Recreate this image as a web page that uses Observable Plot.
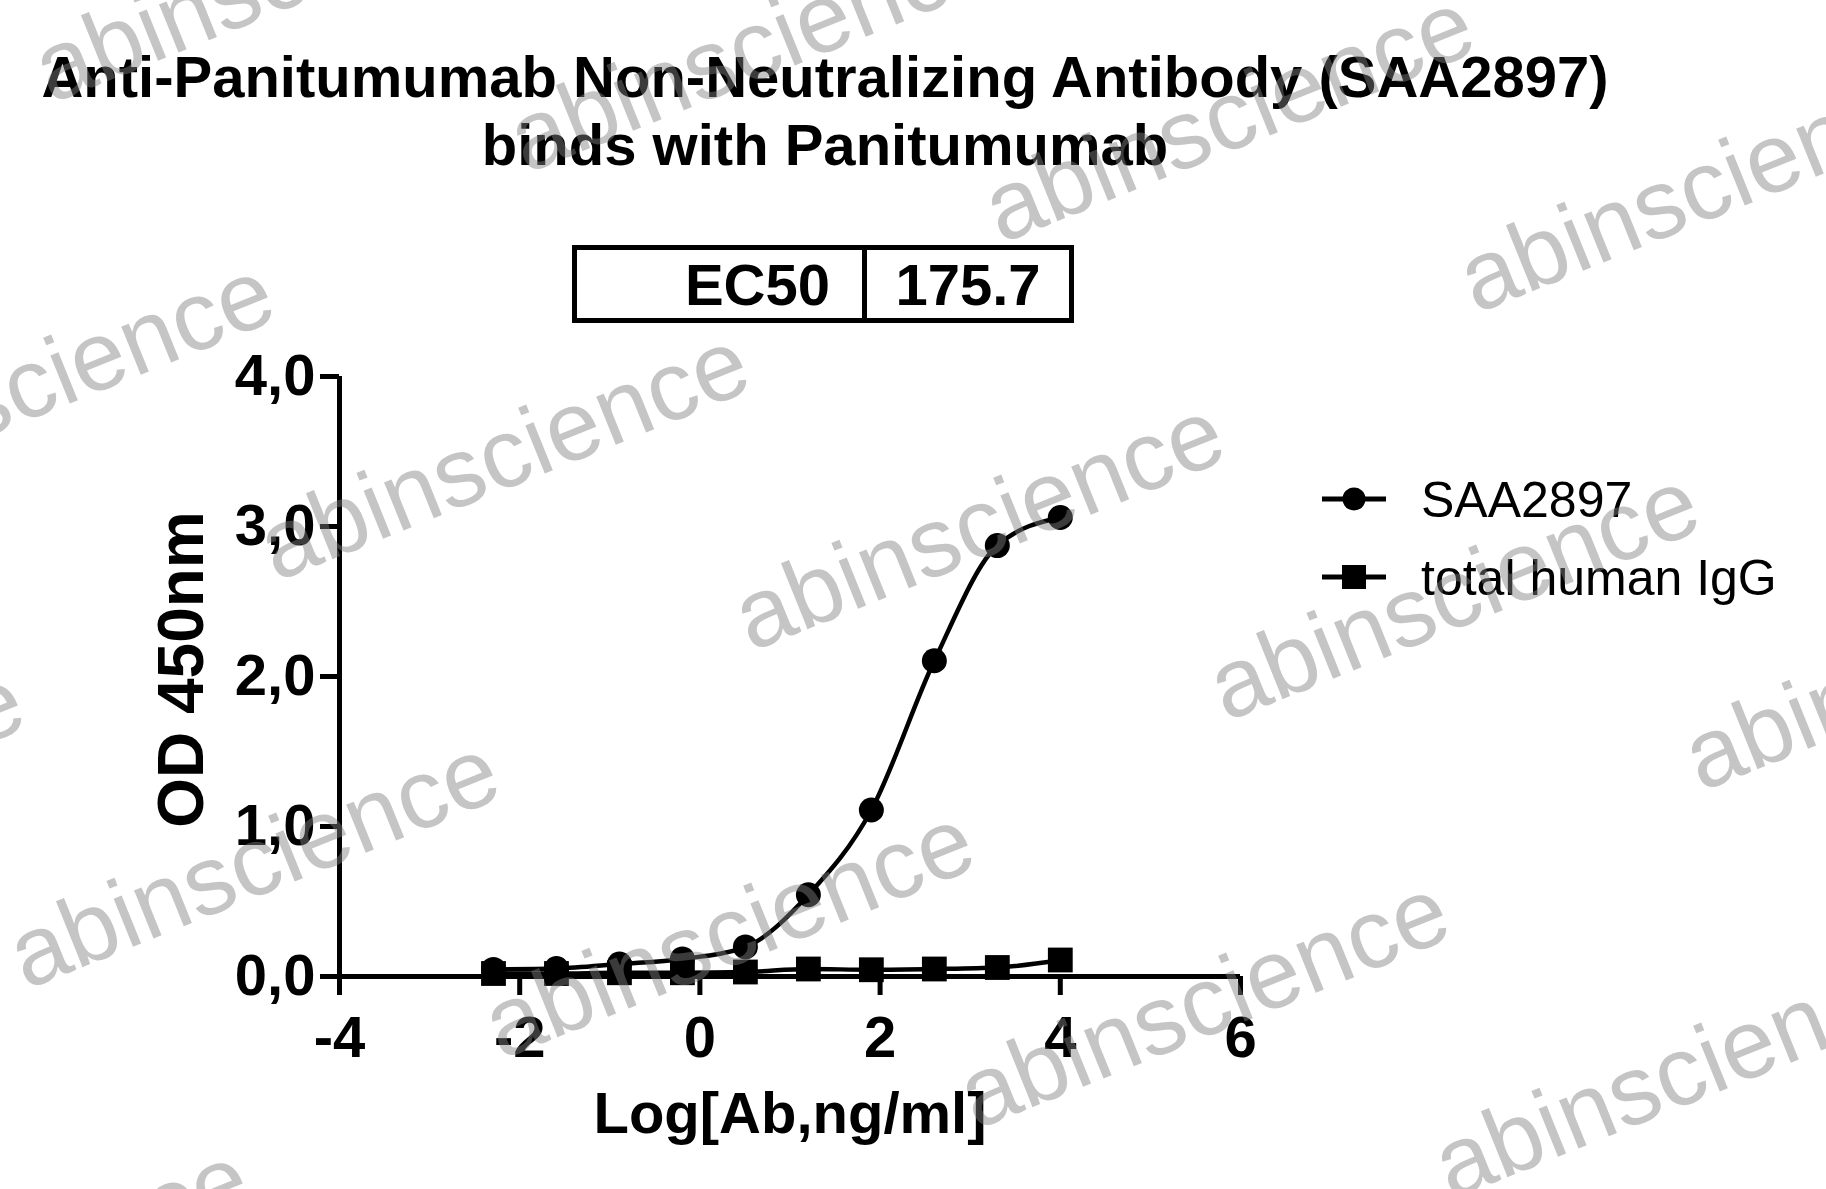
<!DOCTYPE html>
<html>
<head>
<meta charset="utf-8">
<script src="https://cdn.jsdelivr.net/npm/d3@7"></script>
<script src="https://cdn.jsdelivr.net/npm/@observablehq/plot@0.6"></script>
<style>
html, body { margin: 0; padding: 0; background: #fff; }
#page { position: relative; width: 1826px; height: 1189px; overflow: hidden; background: #fff;
  font-family: "Liberation Sans", Arial, sans-serif; color: #000; }
.title { position: absolute; left: 0; width: 1650px; text-align: center; font-weight: bold;
  font-size: 58px; line-height: 68px; white-space: nowrap; }
#chart { position: absolute; left: 0; top: 200px; }
#ec50 { position: absolute; left: 572px; top: 245px; width: 502px; height: 78px; box-sizing: border-box;
  border: 5px solid #000; display: flex; font-weight: bold; font-size: 58px; background: #fff; }
#ec50 .k { width: 290px; box-sizing: border-box; border-right: 5px solid #000; padding-right: 32px;
  display: flex; align-items: center; justify-content: flex-end; }
#ec50 .v { flex: 1; display: flex; align-items: center; justify-content: center; }
svg.overlay { position: absolute; left: 0; top: 0; pointer-events: none; }
</style>
</head>
<body>
<div id="page">
  <div class="title" style="top:43px">Anti-Panitumumab Non-Neutralizing Antibody (SAA2897)</div>
  <div class="title" style="top:111px">binds with Panitumumab</div>
  <div id="chart"></div>
  <div id="ec50"><div class="k" id="ec50k"></div><div class="v" id="ec50v"></div></div>
</div>
<script>
// ---- data ----
const logConc   = [-2.291, -1.592, -0.893, -0.194, 0.505, 1.204, 1.903, 2.602, 3.301, 4.0];
const saa2897   = [0.047, 0.053, 0.083, 0.117, 0.197, 0.545, 1.11, 2.105, 2.873, 3.06];
const totalIgG  = [0.02, 0.02, 0.025, 0.025, 0.03, 0.05, 0.045, 0.05, 0.06, 0.11];
const seriesNames = ["SAA2897", "total human IgG"];
const seriesSymbols = ["circle", "square"];
const xTicks = [-4, -2, 0, 2, 4, 6];
const yTicks = [0, 1, 2, 3, 4];
const xDomain = [-4, 6];
const yDomain = [0, 4];
const ec50Label = "EC50";
const ec50Value = "175.7";
const xTitle = "Log[Ab,ng/ml]";
const yTitle = "OD 450nm";
const watermark = "abinscience";

const FONT = "Liberation Sans, Arial, sans-serif";
const rows = logConc.map((x, i) => ({x, saa: saa2897[i], igg: totalIgG[i]}));

const plot = Plot.plot({
  width: 1826,
  height: 989,
  marginLeft: 339,
  marginRight: 586,
  marginTop: 176,
  marginBottom: 213,
  style: {fontFamily: FONT, background: "#fff", color: "#000", overflow: "visible"},
  x: {domain: xDomain},
  y: {domain: yDomain},
  marks: [
    Plot.axisX({ticks: xTicks, tickSize: 19, tickPadding: 20, fontSize: 58, fontWeight: "bold",
      strokeWidth: 5, stroke: "#000", fill: "#000", label: null,
      tickFormat: d => (d < 0 ? "-" + Math.abs(d) : String(d))}),
    Plot.axisY({ticks: yTicks, tickSize: 19, tickPadding: 5, fontSize: 58, fontWeight: "bold",
      strokeWidth: 5, stroke: "#000", fill: "#000", label: null,
      tickFormat: d => d.toFixed(1).replace(".", ",")}),
    Plot.ruleY([0], {x1: xDomain[0], x2: xDomain[1], stroke: "#000", strokeWidth: 5}),
    Plot.ruleX([xDomain[0]], {y1: yDomain[0], y2: yDomain[1], stroke: "#000", strokeWidth: 5}),
    Plot.line(rows, {x: "x", y: "saa", curve: "monotone-x", stroke: "#000", strokeWidth: 4.5}),
    Plot.line(rows, {x: "x", y: "igg", curve: "monotone-x", stroke: "#000", strokeWidth: 4.5}),
    Plot.dot(rows, {x: "x", y: "saa", symbol: seriesSymbols[0], r: 12.5, fill: "#000", stroke: "none"}),
    Plot.dot(rows, {x: "x", y: "igg", symbol: seriesSymbols[1], r: 14, fill: "#000", stroke: "none"}),
    Plot.text([xTitle], {text: d => d, frameAnchor: "bottom", dy: 156, lineAnchor: "bottom",
      textAnchor: "middle", fontSize: 58, fontWeight: "bold", fill: "#000"}),
    Plot.text([yTitle], {text: d => d, frameAnchor: "left", rotate: -90, dx: -137, dy: -7,
      lineAnchor: "bottom", textAnchor: "middle", fontSize: 64, fontWeight: "bold", fill: "#000"})
  ]
});
document.getElementById("chart").appendChild(plot);
document.getElementById("ec50k").textContent = ec50Label;
document.getElementById("ec50v").textContent = ec50Value;

// ---- legend ----
const page = d3.select("#page");
const leg = page.append("svg").attr("class", "overlay").attr("width", 1826).attr("height", 1189);
const legRowY = [499, 577];
seriesNames.forEach((name, k) => {
  const cy = legRowY[k];
  leg.append("line").attr("x1", 1322).attr("x2", 1386).attr("y1", cy).attr("y2", cy)
    .attr("stroke", "#000").attr("stroke-width", 5);
  if (seriesSymbols[k] === "circle") {
    leg.append("circle").attr("cx", 1354).attr("cy", cy).attr("r", 11.5).attr("fill", "#000");
  } else {
    leg.append("rect").attr("x", 1354 - 12).attr("y", cy - 12).attr("width", 24).attr("height", 24).attr("fill", "#000");
  }
  leg.append("text").attr("x", 1421).attr("y", cy + 17.5).attr("font-family", FONT)
    .attr("font-size", 50).attr("fill", "#000").text(name);
});

// ---- watermark overlay ----
const wm = page.append("svg").attr("class", "overlay").attr("width", 1826).attr("height", 1189);
const O = [751, 652], A = [475, 70], B = [-250, 408];
for (let i = -5; i <= 5; i++) {
  for (let j = -4; j <= 4; j++) {
    const px = O[0] + i * A[0] + j * B[0];
    const py = O[1] + i * A[1] + j * B[1];
    if (px < -560 || px > 1850 || py < -20 || py > 1500) continue;
    wm.append("text").attr("transform", `translate(${px},${py}) rotate(-22)`)
      .attr("font-family", FONT).attr("font-size", 98).attr("fill", "#808080")
      .attr("fill-opacity", 0.46).text(watermark);
  }
}
</script>
</body>
</html>
